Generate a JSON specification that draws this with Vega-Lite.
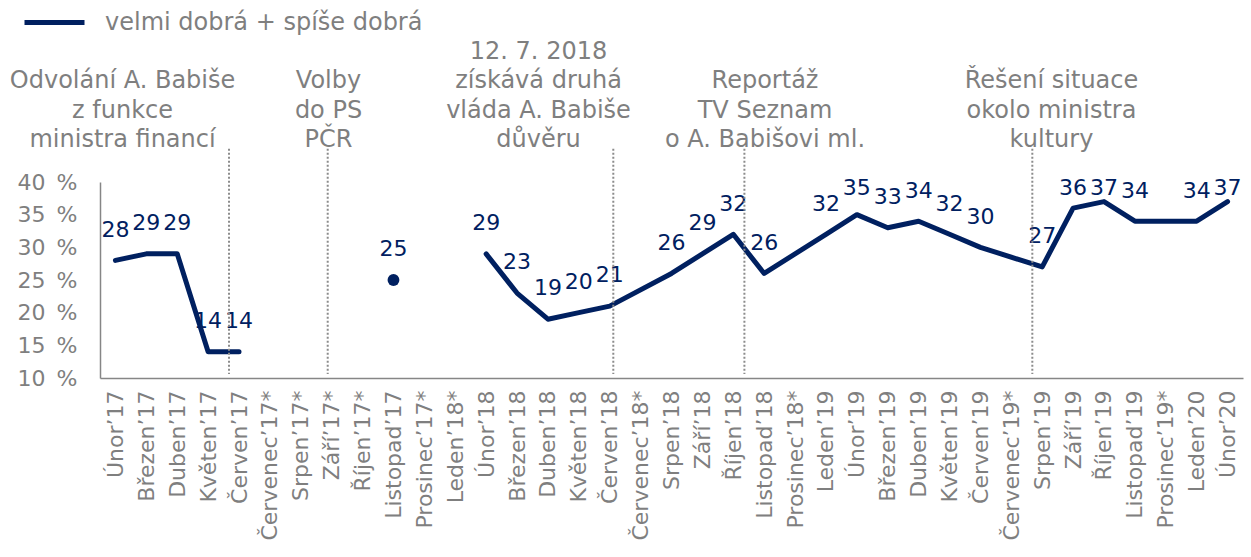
{
  "$schema": "https://vega.github.io/schema/vega-lite/v6.json",
  "width": 1143,
  "height": 196,
  "autosize": {"type": "none"},
  "padding": {"left": 100, "top": 182, "right": 8, "bottom": 179},
  "config": {"font": "DejaVu Sans", "view": {"stroke": null}},
  "datasets": {
    "survey": [
      {"m": "Únor’17", "v": 28, "seg": "A"},
      {"m": "Březen’17", "v": 29, "seg": "A"},
      {"m": "Duben’17", "v": 29, "seg": "A"},
      {"m": "Květen’17", "v": 14, "seg": "A"},
      {"m": "Červen’17", "v": 14, "seg": "A"},
      {"m": "Listopad’17", "v": 25, "seg": "B"},
      {"m": "Únor’18", "v": 29, "seg": "C"},
      {"m": "Březen’18", "v": 23, "seg": "C"},
      {"m": "Duben’18", "v": 19, "seg": "C"},
      {"m": "Květen’18", "v": 20, "seg": "C"},
      {"m": "Červen’18", "v": 21, "seg": "C"},
      {"m": "Srpen’18", "v": 26, "seg": "C"},
      {"m": "Září’18", "v": 29, "seg": "C"},
      {"m": "Říjen’18", "v": 32, "seg": "C"},
      {"m": "Listopad’18", "v": 26, "seg": "C"},
      {"m": "Leden’19", "v": 32, "seg": "C"},
      {"m": "Únor’19", "v": 35, "seg": "C"},
      {"m": "Březen’19", "v": 33, "seg": "C"},
      {"m": "Duben’19", "v": 34, "seg": "C"},
      {"m": "Květen’19", "v": 32, "seg": "C"},
      {"m": "Červen’19", "v": 30, "seg": "C"},
      {"m": "Srpen’19", "v": 27, "seg": "C"},
      {"m": "Září’19", "v": 36, "seg": "C"},
      {"m": "Říjen’19", "v": 37, "seg": "C"},
      {"m": "Listopad’19", "v": 34, "seg": "C"},
      {"m": "Leden’20", "v": 34, "seg": "C"},
      {"m": "Únor’20", "v": 37, "seg": "C"}
    ],
    "events": [
      {"pos": 3.676},
      {"pos": 6.871},
      {"pos": 16.116},
      {"pos": 20.36},
      {"pos": 29.68}
    ],
    "notes": [
      {"pos": 0.23, "row": 2, "t": "Odvolání A. Babiše"},
      {"pos": 0.23, "row": 1, "t": "z funkce"},
      {"pos": 0.23, "row": 0, "t": "ministra financí"},
      {"pos": 6.897, "row": 2, "t": "Volby"},
      {"pos": 6.897, "row": 1, "t": "do PS"},
      {"pos": 6.897, "row": 0, "t": "PČR"},
      {"pos": 13.695, "row": 3, "t": "12. 7. 2018"},
      {"pos": 13.695, "row": 2, "t": "získává druhá"},
      {"pos": 13.695, "row": 1, "t": "vláda A. Babiše"},
      {"pos": 13.695, "row": 0, "t": "důvěru"},
      {"pos": 21.027, "row": 2, "t": "Reportáž"},
      {"pos": 21.027, "row": 1, "t": "TV Seznam"},
      {"pos": 21.027, "row": 0, "t": "o A. Babišovi ml."},
      {"pos": 30.3, "row": 2, "t": "Řešení situace"},
      {"pos": 30.3, "row": 1, "t": "okolo ministra"},
      {"pos": 30.3, "row": 0, "t": "kultury"}
    ]
  },
  "layer": [
    {
      "data": {"name": "survey"},
      "encoding": {
        "x": {
          "field": "m",
          "type": "ordinal",
          "scale": {
            "type": "point",
            "padding": 0.5,
            "domain": ["Únor’17","Březen’17","Duben’17","Květen’17","Červen’17","Červenec’17*","Srpen’17*","Září’17*","Říjen’17*","Listopad’17","Prosinec’17*","Leden’18*","Únor’18","Březen’18","Duben’18","Květen’18","Červen’18","Červenec’18*","Srpen’18","Září’18","Říjen’18","Listopad’18","Prosinec’18*","Leden’19","Únor’19","Březen’19","Duben’19","Květen’19","Červen’19","Červenec’19*","Srpen’19","Září’19","Říjen’19","Listopad’19","Prosinec’19*","Leden’20","Únor’20"]
          },
          "axis": {
            "title": null,
            "labelAngle": -90,
            "labelFontSize": 22,
            "labelColor": "#7f7f7f",
            "ticks": false,
            "domainColor": "#868686",
            "domainWidth": 1.5,
            "labelPadding": 12,
            "labelOverlap": false,
            "grid": false
          }
        },
        "y": {
          "field": "v",
          "type": "quantitative",
          "scale": {"domain": [10, 40], "nice": false, "zero": false},
          "axis": {
            "title": null,
            "values": [10, 15, 20, 25, 30, 35, 40],
            "labelExpr": "datum.value + '\u2002%'",
            "labelFontSize": 22,
            "labelColor": "#7f7f7f",
            "ticks": false,
            "domainColor": "#868686",
            "domainWidth": 1.5,
            "labelPadding": 23,
            "grid": false
          }
        }
      },
      "layer": [
        {
          "transform": [{"filter": "datum.seg != 'B'"}],
          "mark": {"type": "line", "strokeWidth": 5, "strokeJoin": "round", "strokeCap": "round"},
          "encoding": {
            "detail": {"field": "seg"},
            "order": {"value": null},
            "color": {
              "datum": "velmi dobrá + spíše dobrá",
              "scale": {"range": ["#002060"]},
              "legend": {
                "title": null,
                "orient": "none",
                "legendX": -78,
                "legendY": -192,
                "padding": 0,
                "symbolType": "stroke",
                "symbolSize": 3600,
                "symbolStrokeWidth": 5,
                "labelFontSize": 24,
                "labelColor": "#7f7f7f",
                "labelOffset": 18,
                "labelLimit": 0
              }
            }
          }
        },
        {
          "transform": [{"filter": "datum.seg == 'B'"}],
          "mark": {"type": "circle", "size": 140, "color": "#002060", "opacity": 1}
        }
      ]
    },
    {
      "data": {"name": "survey"},
      "mark": {"type": "text", "fontSize": 22, "color": "#002060", "baseline": "middle", "align": "center"},
      "encoding": {
        "x": {
          "field": "m",
          "type": "ordinal",
          "scale": {
            "type": "point",
            "padding": 0.5,
            "domain": ["Únor’17","Březen’17","Duben’17","Květen’17","Červen’17","Červenec’17*","Srpen’17*","Září’17*","Říjen’17*","Listopad’17","Prosinec’17*","Leden’18*","Únor’18","Březen’18","Duben’18","Květen’18","Červen’18","Červenec’18*","Srpen’18","Září’18","Říjen’18","Listopad’18","Prosinec’18*","Leden’19","Únor’19","Březen’19","Duben’19","Květen’19","Červen’19","Červenec’19*","Srpen’19","Září’19","Říjen’19","Listopad’19","Prosinec’19*","Leden’20","Únor’20"]
          },
          "axis": null
        },
        "y": {
          "field": "v",
          "type": "quantitative",
          "scale": {"domain": [5.23, 34.46], "range": [196, 6], "nice": false, "zero": false, "clamp": true},
          "axis": null
        },
        "text": {"field": "v", "type": "quantitative"}
      }
    },
    {
      "data": {"name": "events"},
      "mark": {"type": "rule", "strokeDash": [2, 2], "strokeWidth": 2, "color": "#8c8c8c"},
      "encoding": {
        "x": {"field": "pos", "type": "quantitative", "scale": {"domain": [-0.5, 36.5], "nice": false, "zero": false}, "axis": null},
        "y": {"datum": 45.08, "type": "quantitative", "scale": {"domain": [10, 40], "nice": false, "zero": false}, "axis": null},
        "y2": {"datum": 10.6}
      }
    },
    {
      "data": {"name": "notes"},
      "mark": {"type": "text", "fontSize": 24, "color": "#7f7f7f", "baseline": "middle", "align": "center"},
      "encoding": {
        "x": {"field": "pos", "type": "quantitative", "scale": {"domain": [-0.5, 36.5], "nice": false, "zero": false}, "axis": null},
        "y": {"field": "row", "type": "quantitative", "scale": {"domain": [-8.123, -1.434], "nice": false, "zero": false}, "axis": null},
        "text": {"field": "t"}
      }
    }
  ],
  "resolve": {"scale": {"x": "independent", "y": "independent"}}
}
